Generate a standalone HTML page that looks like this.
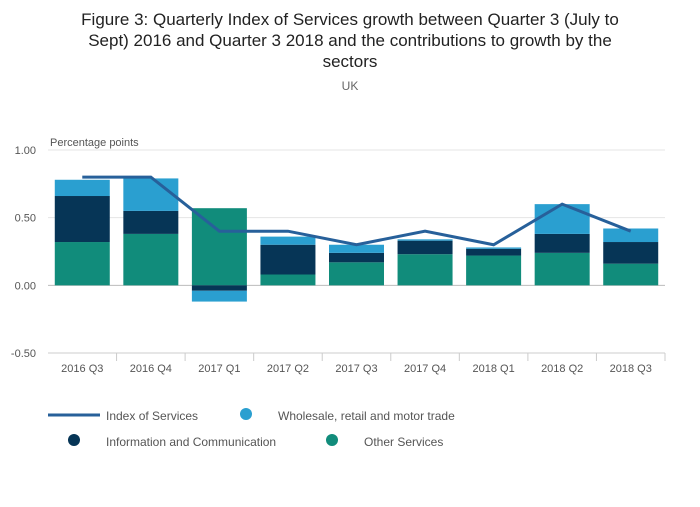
<!DOCTYPE html>
<html><head><meta charset="utf-8"><style>
body{margin:0;background:#fff;font-family:"Liberation Sans",sans-serif;}
</style></head><body>
<svg width="700" height="502" xmlns="http://www.w3.org/2000/svg" font-family="Liberation Sans, sans-serif">
<text x="350" y="25" text-anchor="middle" font-size="17" fill="#222">Figure 3: Quarterly Index of Services growth between Quarter 3 (July to</text>
<text x="350" y="46" text-anchor="middle" font-size="17" fill="#222">Sept) 2016 and Quarter 3 2018 and the contributions to growth by the</text>
<text x="350" y="67" text-anchor="middle" font-size="17" fill="#222">sectors</text>
<text x="350" y="90" text-anchor="middle" font-size="12" fill="#666">UK</text>
<text x="50" y="146" font-size="11" fill="#555">Percentage points</text>
<g id="grid"></g><g id="bars"></g><g id="line"></g><g id="xaxis"></g>
<g font-size="12" fill="#555">
<line x1="48" y1="415" x2="100" y2="415" stroke="#27609a" stroke-width="3"/>
<text x="106" y="420">Index of Services</text>
<circle cx="246" cy="414" r="6" fill="#2a9fd0"/>
<text x="278" y="420">Wholesale, retail and motor trade</text>
<circle cx="74" cy="440" r="6" fill="#063556"/>
<text x="106" y="446">Information and Communication</text>
<circle cx="332" cy="440" r="6" fill="#118c7b"/>
<text x="364" y="446">Other Services</text>
</g>
</svg>
<script>
const categories=["2016 Q3","2016 Q4","2017 Q1","2017 Q2","2017 Q3","2017 Q4","2018 Q1","2018 Q2","2018 Q3"];
const otherServices=[0.32,0.38,0.57,0.08,0.17,0.23,0.22,0.24,0.16];
const infoComm=[0.34,0.17,-0.04,0.22,0.07,0.10,0.05,0.14,0.16];
const wholesale=[0.12,0.24,-0.08,0.06,0.06,0.01,0.01,0.22,0.10];
const indexServices=[0.8,0.8,0.4,0.4,0.3,0.4,0.3,0.6,0.4];
const yTicks=[1.0,0.5,0.0,-0.5];
const yTickLabels=["1.00","0.50","0.00","-0.50"];
const NS="http://www.w3.org/2000/svg";
const x0=48,x1=665,yTop=150,yBot=353,vMax=1,vMin=-0.5;
const bw=(x1-x0)/categories.length;
const y=v=>yTop+(vMax-v)/(vMax-vMin)*(yBot-yTop);
const xc=i=>x0+bw*(i+0.5);
function mk(tag,attrs,parent){const e=document.createElementNS(NS,tag);for(const k in attrs)e.setAttribute(k,attrs[k]);document.getElementById(parent).appendChild(e);return e;}
yTicks.forEach((t,i)=>{
 const l=mk('line',{x1:x0,x2:x1,y1:y(t),y2:y(t),stroke:t===0?'#bbb':'#e4e4e4'},'grid');
 
 
 const tx=mk('text',{x:36,y:y(t)+4,'text-anchor':'end','font-size':11,fill:'#555'},'grid');
 tx.textContent=yTickLabels[i];
 
 
});
const series=[[otherServices,'#118c7b','bar-other-services'],[infoComm,'#063556','bar-info-comm'],[wholesale,'#2a9fd0','bar-wholesale']];
categories.forEach((c,i)=>{
 let pos=0,neg=0;
 series.forEach(([d,col,nm])=>{
  const v=d[i];let a,b;
  if(v>=0){a=pos;b=pos+v;pos=b;}else{a=neg;b=neg+v;neg=b;}
  const r=mk('rect',{x:xc(i)-27.5,width:55,y:Math.min(y(a),y(b)),height:Math.abs(y(a)-y(b)),fill:col},'bars');
  
  
 });
 const t=mk('text',{x:xc(i),y:372,'text-anchor':'middle','font-size':11,fill:'#555'},'xaxis');
 t.textContent=c;
 
 
 const tk=mk('line',{x1:x0+bw*(i+1),x2:x0+bw*(i+1),y1:yBot,y2:yBot+8,stroke:'#ccc'},'xaxis');
 
 
});
const ax=mk('line',{x1:x0,x2:x1,y1:yBot,y2:yBot,stroke:'#ccc'},'xaxis');


const p=mk('polyline',{points:indexServices.map((v,i)=>xc(i)+','+y(v)).join(' '),fill:'none',stroke:'#27609a','stroke-width':3},'line');


</script>
</body></html>
